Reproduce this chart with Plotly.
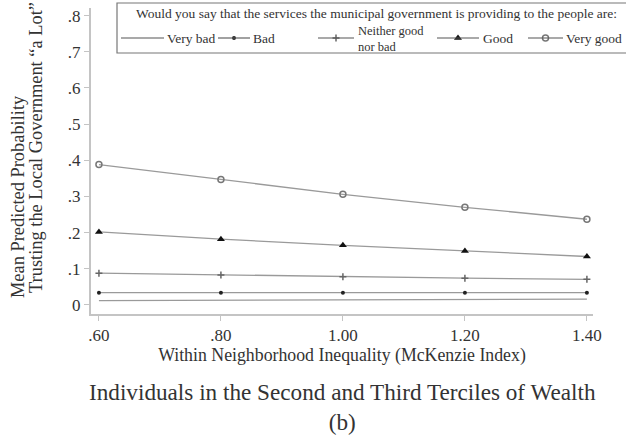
import plotly.graph_objects as go

# McKenzie index values on the x axis
inequality = [0.60, 0.80, 1.00, 1.20, 1.40]

# Mean predicted probability of trusting the local government "a lot",
# by evaluation of municipal services
very_bad = [0.012, 0.013, 0.014, 0.015, 0.016]
bad = [0.034, 0.034, 0.034, 0.034, 0.034]
neither = [0.088, 0.083, 0.078, 0.074, 0.071]
good = [0.202, 0.182, 0.165, 0.149, 0.134]
very_good = [0.388, 0.347, 0.306, 0.270, 0.237]

series_names = ["Very bad", "Bad", "Neither good<br>nor bad", "Good", "Very good"]
series_values = [very_bad, bad, neither, good, very_good]

y_ticks = [0, 0.1, 0.2, 0.3, 0.4, 0.5, 0.6, 0.7, 0.8]
y_tick_text = ["0", ".1", ".2", ".3", ".4", ".5", ".6", ".7", ".8"]
x_ticks = [0.6, 0.8, 1.0, 1.2, 1.4]
x_tick_text = [".60", ".80", "1.00", "1.20", "1.40"]

legend_title = "Would you say that the services the municipal government is providing to the people are:"
y_title_lines = ["Mean Predicted Probability", "Trusting the Local Government \u201ca Lot\u201d"]

FONT = "Liberation Serif"
TEXT = "#333"
LINE = "#9a9a9a"

# marker style per series (Very bad is a plain line)
markers = [
    None,
    dict(symbol="circle", size=4, color="#222"),
    dict(symbol="cross-thin", size=5, color="#666", line=dict(width=1.5, color="#666")),
    dict(symbol="triangle-up", size=7, color="#111"),
    dict(symbol="circle-open", size=6, color="#777", line=dict(width=1.5, color="#777")),
]

fig = go.Figure()
for name, vals, mk in zip(series_names, series_values, markers):
    fig.add_trace(go.Scatter(
        x=inequality, y=vals, name=name.replace("<br>", " "),
        mode="lines" if mk is None else "lines+markers",
        line=dict(color=LINE, width=1.3),
        marker=mk if mk is not None else dict(),
        showlegend=False,
    ))

# ---- page geometry, used to place the key and titles in paper coordinates ----
W, H = 626, 437
L, R, T, B = 91, 33, 8, 123
pw, ph = W - L - R, H - T - B


def px(x):
    return (x - L) / pw


def py(y):
    return (H - B - y) / ph


# ---- hand-built key ----
fig.add_shape(type="rect", xref="paper", yref="paper",
              x0=px(117), x1=px(640), y0=py(53), y1=py(3),
              line=dict(color="#777", width=1.2), fillcolor="white", layer="below")
fig.add_annotation(text=legend_title, xref="paper", yref="paper",
                   x=px(134), y=py(13), xanchor="left", yanchor="middle",
                   showarrow=False, font=dict(family=FONT, size=13.5, color=TEXT))

# sample line start/end and label start for each key entry
key_line_x0 = [121, 218, 318, 437, 528]
key_line_x1 = [164, 250, 354, 479, 563]
key_text_x = [165, 251, 356, 481, 564]
key_y = 38
for i, name in enumerate(series_names):
    fig.add_shape(type="line", xref="paper", yref="paper",
                  x0=px(key_line_x0[i]), x1=px(key_line_x1[i]), y0=py(key_y), y1=py(key_y),
                  line=dict(color="#555", width=1.1), layer="above")
    two_line = "<br>" in name
    fig.add_annotation(text=name, xref="paper", yref="paper",
                       x=px(key_text_x[i]), y=py(key_y + (1 if two_line else 0)),
                       xanchor="left", yanchor="middle", align="left",
                       showarrow=False,
                       font=dict(family=FONT, size=12.5 if two_line else 13.5, color=TEXT))
    if markers[i] is not None:
        fig.add_trace(go.Scatter(
            x=[px((key_line_x0[i] + key_line_x1[i]) / 2)], y=[py(key_y)],
            xaxis="x2", yaxis="y2", mode="markers", marker=markers[i],
            showlegend=False, hoverinfo="skip", cliponaxis=False,
        ))

# ---- vertical axis title, one annotation per line ----
for text, (cx, cy) in zip(y_title_lines, [(18, 197), (36, 148)]):
    fig.add_annotation(text=text, xref="paper", yref="paper",
                       x=px(cx), y=py(cy), xanchor="center", yanchor="middle",
                       textangle=-90, showarrow=False,
                       font=dict(family=FONT, size=18.4, color=TEXT))

fig.update_layout(
    width=W, height=H,
    margin=dict(l=L, r=R, t=T, b=B),
    paper_bgcolor="white", plot_bgcolor="white",
    font=dict(family=FONT, color=TEXT, size=15),
    showlegend=False,
    xaxis=dict(
        range=[0.587, 1.41], tickvals=x_ticks, ticktext=x_tick_text,
        showgrid=False, zeroline=False, showline=True, linecolor="#c4c4c4", linewidth=2,
        ticks="outside", ticklen=5, tickcolor="#c4c4c4", tickfont=dict(size=17),
        title=dict(text="Within Neighborhood Inequality (McKenzie Index)", font=dict(size=17.8), standoff=3),
    ),
    yaxis=dict(
        range=[-0.025, 0.821], tickvals=y_ticks, ticktext=y_tick_text,
        showgrid=False, zeroline=False, showline=True, linecolor="#c4c4c4", linewidth=2,
        ticks="outside", ticklen=5, tickcolor="#c4c4c4", tickfont=dict(size=17),
    ),
    xaxis2=dict(overlaying="x", range=[0, 1], visible=False, fixedrange=True),
    yaxis2=dict(overlaying="y", range=[0, 1], visible=False, fixedrange=True),
)

fig.add_annotation(
    text="Individuals in the Second and Third Terciles of Wealth<br>(b)",
    xref="paper", yref="paper", x=0.5, y=py(377), xanchor="center", yanchor="top",
    showarrow=False, font=dict(family=FONT, size=23.2, color=TEXT),
)

fig.write_html("out.html")
